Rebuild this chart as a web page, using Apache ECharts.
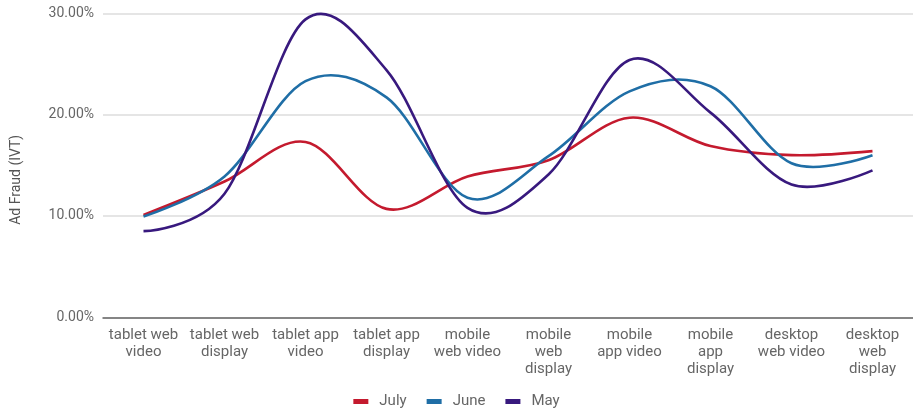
<!DOCTYPE html>
<html>
<head>
<meta charset="utf-8">
<script src="https://cdn.jsdelivr.net/npm/echarts@6/dist/echarts.min.js"></script>
<style>
html,body{margin:0;padding:0;background:#fff;}
#chart{width:913px;height:411px;}
</style>
</head>
<body>
<div id="chart"></div>
<script>
const categories = [
  "tablet web\nvideo", "tablet web\ndisplay", "tablet app\nvideo", "tablet app\ndisplay",
  "mobile\nweb video", "mobile\nweb\ndisplay", "mobile\napp video", "mobile\napp\ndisplay",
  "desktop\nweb video", "desktop\nweb\ndisplay"
];
const july = [10.1, 13.4, 17.3, 10.7, 13.9, 15.5, 19.7, 16.9, 16.0, 16.4];
const june = [9.95, 13.9, 23.3, 21.7, 11.8, 15.9, 22.3, 22.8, 15.2, 16.0];
const may  = [8.5, 12.2, 29.4, 24.4, 10.8, 14.1, 25.4, 20.2, 13.1, 14.5];
const yTicks = [0, 10, 20, 30];

const seriesNames = ['July', 'June', 'May'];
const seriesColors = ['#c41a2e', '#1f6ea6', '#38197e'];
const seriesValues = [july, june, may];

const chart = echarts.init(document.getElementById('chart'));
const font = 'Roboto, "Noto Sans", sans-serif';

// Smooth curve through the points (cardinal spline, endpoints use the point itself as control)
function makeRender(values, color) {
  return function (params, api) {
    if (params.dataIndex !== 0) return null;
    const pts = values.map((v, i) => api.coord([i, v]));
    const k = 1 / 6;
    let d = 'M' + pts[0][0] + ' ' + pts[0][1];
    for (let i = 0; i < pts.length - 1; i++) {
      const p0 = pts[i], p1 = pts[i + 1];
      const pm = pts[i - 1], p2 = pts[i + 2];
      const c1 = pm ? [p0[0] + (p1[0] - pm[0]) * k, p0[1] + (p1[1] - pm[1]) * k] : p0;
      const c2 = p2 ? [p1[0] - (p2[0] - p0[0]) * k, p1[1] - (p2[1] - p0[1]) * k] : p1;
      d += ' C' + c1[0] + ' ' + c1[1] + ' ' + c2[0] + ' ' + c2[1] + ' ' + p1[0] + ' ' + p1[1];
    }
    return {
      type: 'path',
      shape: { pathData: d },
      style: { stroke: color, lineWidth: 2.6, fill: 'none', lineJoin: 'round' },
      silent: true
    };
  };
}

const series = seriesNames.map((name, s) => ({
  name: name,
  type: 'custom',
  coordinateSystem: 'cartesian2d',
  data: seriesValues[s].map((v, i) => [i, v]),
  encode: { x: 0, y: 1 },
  itemStyle: { color: seriesColors[s] },
  renderItem: makeRender(seriesValues[s], seriesColors[s])
}));

chart.setOption({
  animation: false,
  color: seriesColors,
  textStyle: { fontFamily: font },
  grid: { left: 103, right: -6, top: 13.3, bottom: 93.7, containLabel: false },
  legend: {
    bottom: -3, left: 'center', itemWidth: 15, itemHeight: 5, itemGap: 20,
    icon: 'rect',
    textStyle: { color: '#666', fontSize: 15, fontFamily: font, padding: [0, 0, 0, 6] },
    data: seriesNames
  },
  xAxis: {
    type: 'category', data: categories, boundaryGap: true,
    axisLine: { lineStyle: { color: '#666', width: 1.5 } },
    axisTick: { show: false },
    axisLabel: { color: '#666', fontSize: 15, lineHeight: 17, margin: 9, interval: 0, fontFamily: font }
  },
  yAxis: {
    type: 'value', min: 0, max: 30, interval: 10,
    name: 'Ad Fraud (IVT)', nameLocation: 'middle', nameGap: 80, nameRotate: 90,
    nameTextStyle: { color: '#555', fontSize: 14, fontFamily: font, padding: [0, 29, 0, 0] },
    axisLine: { show: false }, axisTick: { show: false },
    splitLine: { lineStyle: { color: '#ddd', width: 1.5 } },
    axisLabel: { color: '#666', fontSize: 14, margin: 9, fontFamily: font,
      formatter: v => yTicks.indexOf(v) >= 0 ? v.toFixed(2) + '%' : '' }
  },
  series: series
});
</script>
</body>
</html>
